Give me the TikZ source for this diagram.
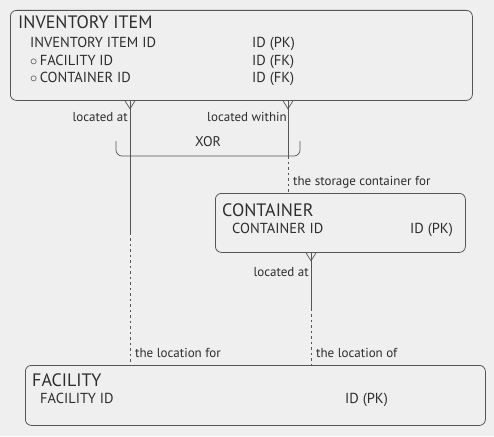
\documentclass[tikz,border=0pt]{standalone}
\usepackage{fontspec}
\setmainfont{PT Sans}
\usetikzlibrary{positioning,calc}
\definecolor{paper}{RGB}{239,239,239}
\definecolor{ink}{RGB}{45,45,45}
\definecolor{wire}{RGB}{85,85,85}

\tikzset{
  entity/.style={draw=wire, rounded corners=6pt, line width=0.8pt, anchor=north west, inner sep=0pt},
  ename/.style={anchor=base west, inner sep=0pt, text=ink, font=\fontsize{18}{21}\selectfont},
  attr/.style={anchor=base west, inner sep=0pt, text=ink, font=\fontsize{14.5}{17}\selectfont},
  rel/.style={inner sep=0pt, text=ink, font=\fontsize{13}{15}\selectfont},
  link/.style={draw=wire, line width=0.7pt},
  optlink/.style={link, dash pattern=on 2.5pt off 3pt},
}
% crow's foot at the many end, hanging below an entity edge
\newcommand{\crowsfoot}[1]{\draw[link] ($(#1)+(-5,0)$) -- ($(#1)+(0,8)$) -- ($(#1)+(5,0)$);}

\begin{document}
\begin{tikzpicture}[x=1pt,y=-1pt]
  \fill[paper] (0,0) rectangle (494,436);
  \useasboundingbox (0,0) rectangle (494,436);

  % entities
  \node[entity, minimum width=462pt, minimum height=90pt] (inv) at (10,10) {};
  \node[ename] (invname) at (18,29) {INVENTORY ITEM};
  \node[attr] (invid) at (30,48) {INVENTORY ITEM ID};
  \node[attr] (invfac) at (30,65) {$\circ$\,FACILITY ID};
  \node[attr] (invcon) at (30,82) {$\circ$\,CONTAINER ID};
  \node[attr] (invidt) at (252,48) {ID (PK)};
  \node[attr] (invfact) at (252,65) {ID (FK)};
  \node[attr] (invcont) at (252,82) {ID (FK)};

  \node[entity, minimum width=250pt, minimum height=59pt] (con) at (215,193) {};
  \node[ename] (conname) at (222,216) {CONTAINER};
  \node[attr] (conid) at (232,233) {CONTAINER ID};
  \node[attr] (conidt) at (410,233) {ID (PK)};

  \node[entity, minimum width=460pt, minimum height=60pt] (fac) at (25,365) {};
  \node[ename] (facname) at (32,386) {FACILITY};
  \node[attr] (facid) at (40,403) {FACILITY ID};
  \node[attr] (facidt) at (345,403) {ID (PK)};

  % connection points on the entity edges
  \coordinate (p1) at (inv.south -| 130,0);
  \coordinate (q1) at (fac.north -| 130,0);
  \coordinate (p2) at (inv.south -| 288,0);
  \coordinate (q2) at (con.north -| 288,0);
  \coordinate (p3) at (con.south -| 311,0);
  \coordinate (q3) at (fac.north -| 311,0);

  % relationships
  \draw[link] (p1) -- ($(p1)!0.5!(q1)$);
  \draw[optlink] ($(p1)!0.5!(q1)$) -- (q1);
  \crowsfoot{p1}
  \draw[link] (p2) -- (288,156);
  \draw[optlink] (288,156) -- (q2);
  \crowsfoot{p2}
  \draw[link] (p3) -- ($(p3)!0.5!(q3)$);
  \draw[optlink] ($(p3)!0.5!(q3)$) -- (q3);
  \crowsfoot{p3}

  % exclusive arc
  \draw[link, rounded corners=6pt] (116,141) -- (116,156) -- (300,156) -- (300,141);
  \node[rel, font=\fontsize{14}{16}\selectfont] (xor) at (208,142) {XOR};

  % relationship names
  \node[rel, anchor=base east] (r1a) at (128,121) {located at};
  \node[rel, anchor=base east] (r2a) at (287,121) {located within};
  \node[rel, anchor=base west] (r2b) at (293,185) {the storage container for};
  \node[rel, anchor=base east] (r3a) at (309,276) {located at};
  \node[rel, anchor=base west] (r1b) at (135,357) {the location for};
  \node[rel, anchor=base west] (r3b) at (316,357) {the location of};
\end{tikzpicture}
\end{document}
